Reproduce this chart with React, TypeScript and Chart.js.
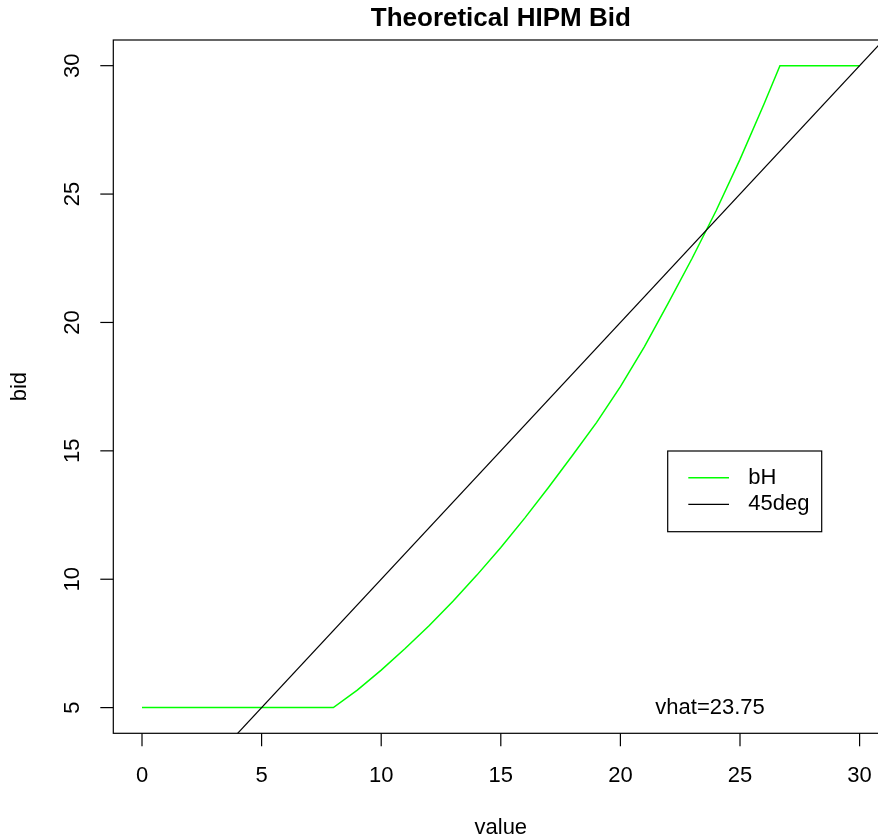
import React, { useEffect, useRef } from "react";
import { Chart, registerables } from "chart.js";

Chart.register(...registerables);

// ---- data ----
const bidValue = [0, 8, 9, 10, 11, 12, 13, 14, 15, 16, 17, 18, 19, 20, 21, 22, 23, 24, 25, 26, 26.67, 30];
const bidHeight = [5, 5, 5.68, 6.46, 7.3, 8.19, 9.14, 10.16, 11.24, 12.38, 13.58, 14.83, 16.1, 17.5, 19.05, 20.75, 22.5, 24.35, 26.35, 28.5, 30, 30];
const diagValue = [-2, 33];
const diagBid = [-2, 33];
const xTicks = [0, 5, 10, 15, 20, 25, 30];
const yTicks = [5, 10, 15, 20, 25, 30];
const vhat = 23.75;
const vhatLabelBid = 5;
const titleText = "Theoretical HIPM Bid";
const xTitle = "value";
const yTitle = "bid";
const seriesLabels = ["bH", "45deg"];
const seriesColors = ["#00ff00", "#000000"];

const W = 890;
const H = 839;
const FONT = '"Liberation Sans", Arial, Helvetica, sans-serif';

const rBasePlugin = {
  id: "rbase",
  afterDraw(chart: any) {
    const { ctx, chartArea: a, scales } = chart;
    const xs = scales.x;
    const ys = scales.y;
    ctx.save();
    ctx.strokeStyle = "#000";
    ctx.fillStyle = "#000";
    ctx.lineWidth = 1.2;
    // box
    ctx.strokeRect(a.left, a.top, a.right - a.left, a.bottom - a.top);

    const tickLen = 13;
    ctx.font = `22px ${FONT}`;
    // x axis ticks
    ctx.textAlign = "center";
    ctx.textBaseline = "middle";
    xTicks.forEach((v) => {
      const px = xs.getPixelForValue(v);
      ctx.beginPath();
      ctx.moveTo(px, a.bottom);
      ctx.lineTo(px, a.bottom + tickLen);
      ctx.stroke();
      ctx.fillText(String(v), px, a.bottom + 42.5);
    });
    // y axis ticks
    yTicks.forEach((v) => {
      const py = ys.getPixelForValue(v);
      ctx.beginPath();
      ctx.moveTo(a.left - tickLen, py);
      ctx.lineTo(a.left, py);
      ctx.stroke();
      ctx.save();
      ctx.translate(a.left - 40, py);
      ctx.rotate(-Math.PI / 2);
      ctx.fillText(String(v), 0, 0);
      ctx.restore();
    });
    // axis titles
    ctx.fillText(xTitle, (a.left + a.right) / 2, a.bottom + 95);
    ctx.save();
    ctx.translate(a.left - 93, (a.top + a.bottom) / 2);
    ctx.rotate(-Math.PI / 2);
    ctx.fillText(yTitle, 0, 0);
    ctx.restore();

    // main title
    ctx.font = `bold 26px ${FONT}`;
    ctx.fillText(titleText, (a.left + a.right) / 2, 19);

    // vhat annotation
    ctx.font = `22px ${FONT}`;
    ctx.fillText(`vhat=${vhat}`, xs.getPixelForValue(vhat), ys.getPixelForValue(vhatLabelBid));

    // legend
    const lx = 667.7;
    const ly = 451;
    const lw = 154;
    const lh = 80.7;
    ctx.lineWidth = 1.2;
    ctx.strokeStyle = "#000";
    ctx.strokeRect(lx, ly, lw, lh);
    ctx.textAlign = "left";
    seriesLabels.forEach((lab, i) => {
      const yy = ly + 26.7 + i * 26.6;
      ctx.strokeStyle = seriesColors[i];
      ctx.lineWidth = i === 0 ? 1.5 : 1.2;
      ctx.beginPath();
      ctx.moveTo(lx + 20.6, yy);
      ctx.lineTo(lx + 61.3, yy);
      ctx.stroke();
      ctx.fillText(lab, lx + 80.6, yy);
    });
    ctx.restore();
  },
};

export default function App() {
  const ref = useRef<HTMLCanvasElement | null>(null);
  useEffect(() => {
    if (!ref.current) return;
    const chart = new Chart(ref.current, {
      type: "line",
      data: {
        datasets: [
          {
            label: seriesLabels[0],
            data: bidValue.map((v, i) => ({ x: v, y: bidHeight[i] })),
            borderColor: seriesColors[0],
            borderWidth: 1.5,
            pointRadius: 0,
            tension: 0,
            fill: false,
            order: 1,
          },
          {
            label: seriesLabels[1],
            data: diagValue.map((v, i) => ({ x: v, y: diagBid[i] })),
            borderColor: seriesColors[1],
            borderWidth: 1.2,
            pointRadius: 0,
            tension: 0,
            fill: false,
            order: 0,
          },
        ],
      },
      options: {
        responsive: false,
        animation: false,
        devicePixelRatio: 1,
        layout: { padding: { top: 40, right: 1.7, left: 0, bottom: 0 } },
        plugins: {
          legend: { display: false },
          title: { display: false },
          tooltip: { enabled: false },
        },
        scales: {
          x: {
            type: "linear",
            min: -1.2,
            max: 31.2,
            grid: { display: false },
            border: { display: false },
            ticks: { display: false },
            afterBuildTicks: (s: any) => {
              s.ticks = xTicks.map((v) => ({ value: v }));
            },
            afterFit: (s: any) => {
              s.height = 105.7;
            },
          },
          y: {
            type: "linear",
            min: 4,
            max: 31,
            grid: { display: false },
            border: { display: false },
            ticks: { display: false },
            afterBuildTicks: (s: any) => {
              s.ticks = yTicks.map((v) => ({ value: v }));
            },
            afterFit: (s: any) => {
              s.width = 113.3;
            },
          },
        },
      } as any,
      plugins: [rBasePlugin],
    });
    return () => chart.destroy();
  }, []);
  return (
    <div style={{ position: "absolute", left: 0, top: 0, width: 878, height: 839, overflow: "hidden", background: "#fff" }}>
      <canvas ref={ref} width={W} height={H} style={{ display: "block", width: W, height: H }} />
    </div>
  );
}
